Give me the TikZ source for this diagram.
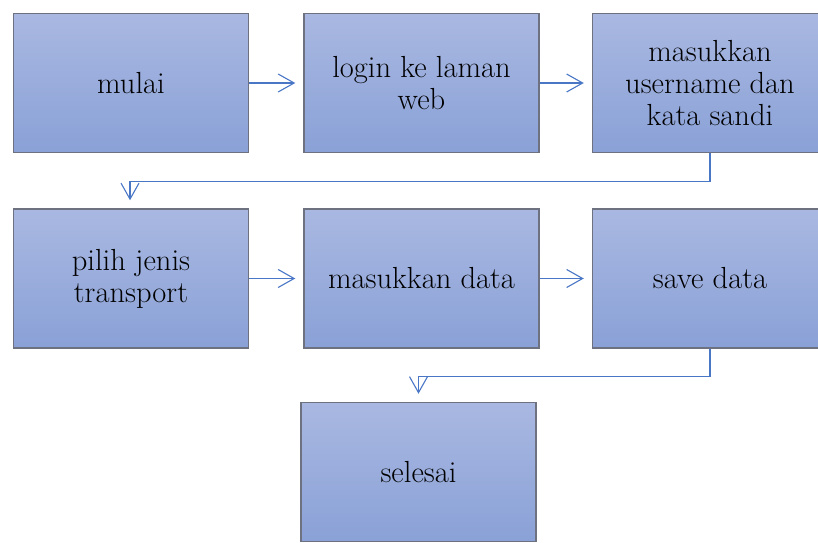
\documentclass[tikz,border=0pt]{standalone}
\usepackage{xcolor}
\usetikzlibrary{positioning, arrows.meta}

\definecolor{boxtop}{HTML}{A9B8E1}
\definecolor{boxbot}{HTML}{8AA1D7}
\definecolor{boxline}{HTML}{6E7180}
\definecolor{arrowblue}{HTML}{4A76C6}

\begin{document}
\begin{tikzpicture}[x=1pt, y=1pt,
  every node/.style={font=\rmfamily\fontsize{30.5}{32}\selectfont},
  stepbox/.style={draw=boxline, line width=1.5pt, top color=boxtop, bottom color=boxbot,
    minimum width=235pt, minimum height=139pt, align=center, inner sep=0pt},
  flow/.style={arrowblue, line width=1.1pt, shorten >=8pt,
    -{Straight Barb[length=16pt, width=18pt, line width=1.1pt]}}]
  \useasboundingbox (0,0) rectangle (818,542);
  \clip (0,0) rectangle (818,542);
  % first row
  \node[stepbox] (mulai) at (131,459) {mulai};
  \node[stepbox, right=54pt of mulai] (login) {login ke laman\\web};
  \node[stepbox, right=52pt of login] (masuk) {masukkan\\username dan\\kata sandi};
  % second row
  \node[stepbox, below=55pt of mulai] (pilih) {pilih jenis\\transport};
  \node[stepbox, right=54pt of pilih] (data) {masukkan data};
  \node[stepbox, right=52pt of data] (save) {save data};
  % last box
  \node[stepbox, below=53pt of data, xshift=-3pt] (selesai) {selesai};
  % connectors
  \draw[flow] (mulai) -- (login);
  \draw[flow] (login) -- (masuk);
  \draw[flow] (masuk.south) -- ++(0,-28) -| ([xshift=-1pt]pilih.north);
  \draw[flow] (pilih) -- (data);
  \draw[flow] (data) -- (save);
  \draw[flow] (save.south) -- ++(0,-28) -| (selesai.north);
\end{tikzpicture}
\end{document}
